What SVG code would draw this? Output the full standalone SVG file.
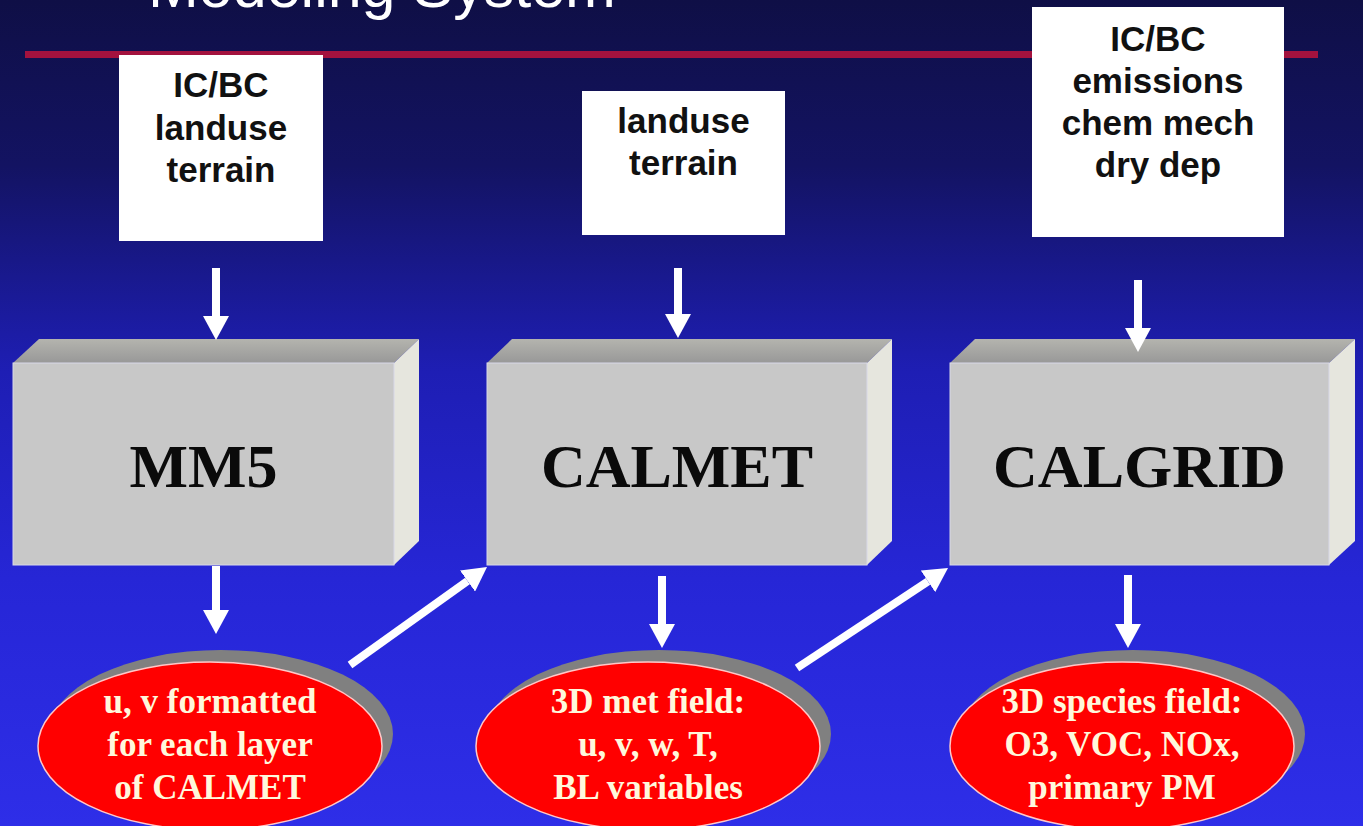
<svg xmlns="http://www.w3.org/2000/svg" width="1363" height="826" viewBox="0 0 1363 826">
<defs>
<linearGradient id="bg" x1="0" y1="0" x2="0" y2="1">
<stop offset="0" stop-color="#0f0f46"/>
<stop offset="0.2" stop-color="#131362"/>
<stop offset="0.45" stop-color="#1e1eb4"/>
<stop offset="0.7" stop-color="#2626d6"/>
<stop offset="1" stop-color="#2e2ee8"/>
</linearGradient>
<linearGradient id="topface" x1="0" y1="0" x2="0" y2="1">
<stop offset="0" stop-color="#b4b4ae"/>
<stop offset="1" stop-color="#989898"/>
</linearGradient>
<marker id="head" viewBox="0 -13 24 26" refX="0" refY="0" markerWidth="24" markerHeight="26" markerUnits="userSpaceOnUse" orient="auto">
<path d="M0,-13 L24,0 L0,13 Z" fill="#ffffff"/>
</marker>
<style>
.inbox{fill:#ffffff;}
.intext{font-family:"Liberation Sans",Arial,sans-serif;font-weight:bold;font-size:35px;fill:#111111;text-anchor:middle;}
.front{fill:#c8c8c8;stroke:#d8d8e8;stroke-width:1;}
.top{fill:url(#topface);}
.side{fill:#e6e6de;}
.model{font-family:"Liberation Serif","Times New Roman",serif;font-weight:bold;font-size:62px;fill:#0a0a0a;text-anchor:middle;}
.shadow{fill:#808080;}
.out{fill:#ff0000;stroke:#ffc8c8;stroke-width:1.5;}
.outtext{font-family:"Liberation Serif","Times New Roman",serif;font-weight:bold;font-size:35px;fill:#fff8dc;text-anchor:middle;}
.arrow{stroke:#ffffff;stroke-width:8;fill:none;marker-end:url(#head);}
</style>
</defs>
<rect x="0" y="0" width="1363" height="826" fill="url(#bg)"/>
<g id="title">
<text x="148" y="7" font-family="'Liberation Sans',Arial,sans-serif" font-size="61" fill="#ffffff">Modeling System</text>
<rect x="25" y="51" width="1293" height="7" fill="#a3123e"/>
</g>
<g id="input-mm5">
<rect class="inbox" x="119" y="55" width="204" height="186"/>
<text class="intext" x="221" y="97">IC/BC</text>
<text class="intext" x="221" y="140">landuse</text>
<text class="intext" x="221" y="182">terrain</text>
</g>
<g id="input-calmet">
<rect class="inbox" x="582" y="91" width="203" height="144"/>
<text class="intext" x="683.5" y="133">landuse</text>
<text class="intext" x="683.5" y="175">terrain</text>
</g>
<g id="input-calgrid">
<rect class="inbox" x="1032" y="7" width="252" height="230"/>
<text class="intext" x="1158" y="51">IC/BC</text>
<text class="intext" x="1158" y="93">emissions</text>
<text class="intext" x="1158" y="135">chem mech</text>
<text class="intext" x="1158" y="177">dry dep</text>
</g>
<g id="mm5">
<polygon class="top" points="13,363 39,339 419,339 394,363"/>
<polygon class="side" points="394,363 419,339 419,541 394,565"/>
<rect class="front" x="13" y="363" width="381" height="202"/>
<text class="model" x="203.5" y="487">MM5</text>
</g>
<g id="calmet">
<polygon class="top" points="487,363 512,339 892,339 867,363"/>
<polygon class="side" points="867,363 892,339 892,541 867,565"/>
<rect class="front" x="487" y="363" width="380" height="202"/>
<text class="model" x="677" y="487">CALMET</text>
</g>
<g id="calgrid">
<polygon class="top" points="950,363 975,339 1355,339 1329,363"/>
<polygon class="side" points="1329,363 1355,339 1355,541 1329,565"/>
<rect class="front" x="950" y="363" width="379" height="202"/>
<text class="model" x="1139.5" y="487">CALGRID</text>
</g>
<g id="out-mm5">
<ellipse class="shadow" cx="221" cy="734" rx="172" ry="84"/>
<ellipse class="out" cx="210" cy="746" rx="172" ry="84"/>
<text class="outtext" x="210" y="713">u, v formatted</text>
<text class="outtext" x="210" y="756">for each layer</text>
<text class="outtext" x="210" y="799">of CALMET</text>
</g>
<g id="out-calmet">
<ellipse class="shadow" cx="659" cy="734" rx="172" ry="84"/>
<ellipse class="out" cx="648" cy="746" rx="172" ry="84"/>
<text class="outtext" x="648" y="713">3D met field:</text>
<text class="outtext" x="648" y="756">u, v, w, T,</text>
<text class="outtext" x="648" y="799">BL variables</text>
</g>
<g id="out-calgrid">
<ellipse class="shadow" cx="1133" cy="734" rx="172" ry="84"/>
<ellipse class="out" cx="1122" cy="746" rx="172" ry="84"/>
<text class="outtext" x="1122" y="713">3D species field:</text>
<text class="outtext" x="1122" y="756">O3, VOC, NOx,</text>
<text class="outtext" x="1122" y="799">primary PM</text>
</g>
<g id="connectors">
<line class="arrow" x1="216" y1="268" x2="216" y2="316"/>
<line class="arrow" x1="678" y1="268" x2="678" y2="314"/>
<line class="arrow" x1="1138" y1="280" x2="1138" y2="328"/>
<line class="arrow" x1="216" y1="566" x2="216" y2="610"/>
<line class="arrow" x1="662" y1="576" x2="662" y2="624"/>
<line class="arrow" x1="1128" y1="575" x2="1128" y2="624"/>
<line class="arrow" x1="350" y1="665" x2="467.5" y2="581"/>
<line class="arrow" x1="797" y1="668" x2="928" y2="581.3"/>
</g>
</svg>
